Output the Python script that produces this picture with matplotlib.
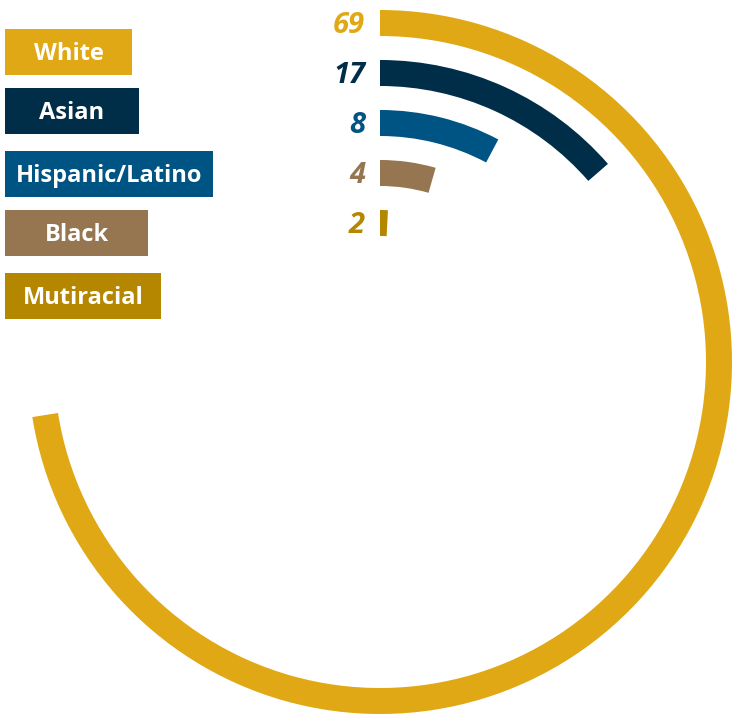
import numpy as np
import matplotlib.pyplot as plt
from matplotlib.patches import Wedge, Rectangle

# race / ethnicity breakdown (percent)
groups = ["White", "Asian", "Hispanic/Latino", "Black", "Mutiracial"]
values = [69, 17, 8, 4, 2]
# the infographic arcs are not drawn to one scale, so sweep angles are read off the picture
sweep_deg = [261, 49, 28, 16, 3]
colors = ["#E0A814", "#002D47", "#005483", "#967650", "#B58600"]

W, H = 732, 717
fig = plt.figure(figsize=(W / 100, H / 100), dpi=100)
ax = fig.add_axes([0, 0, 1, 1])
ax.set_xlim(0, W)
ax.set_ylim(H, 0)
ax.set_aspect("equal")
ax.axis("off")

cx, cy = 380, 362
r_outer = 352
step = 50
band = 26

num_size = 21
cap_px = 0.714 * num_size * 100 / 72  # rough cap/digit height in pixels

for i, (val, sw, col) in enumerate(zip(values, sweep_deg, colors)):
    r = r_outer - i * step
    # y axis is flipped, so -90 is 12 o'clock and increasing angle runs clockwise
    ax.add_patch(Wedge((cx, cy), r, -90, -90 + sw, width=band, facecolor=col, edgecolor="none"))
    ax.text(cx - 15, cy - r + band / 2 + cap_px / 2, str(val), ha="right", va="baseline",
            fontsize=num_size, fontweight="bold", fontstyle="italic", color=col,
            family="Open Sans")

# legend boxes
box_x = 5
box_w = [127, 134, 208, 143, 156]
box_top = [29, 88, 151, 210, 273]
box_h = 46
leg_size = 17
leg_cap = 0.714 * leg_size * 100 / 72
for name, col, bw, bt in zip(groups, colors, box_w, box_top):
    ax.add_patch(Rectangle((box_x, bt), bw, box_h, facecolor=col, edgecolor="none"))
    ax.text(box_x + bw / 2, bt + box_h / 2 + leg_cap / 2, name, ha="center", va="baseline",
            fontsize=leg_size, fontweight="bold", color="white", family="Open Sans")

fig.savefig("out.png", dpi=100)
